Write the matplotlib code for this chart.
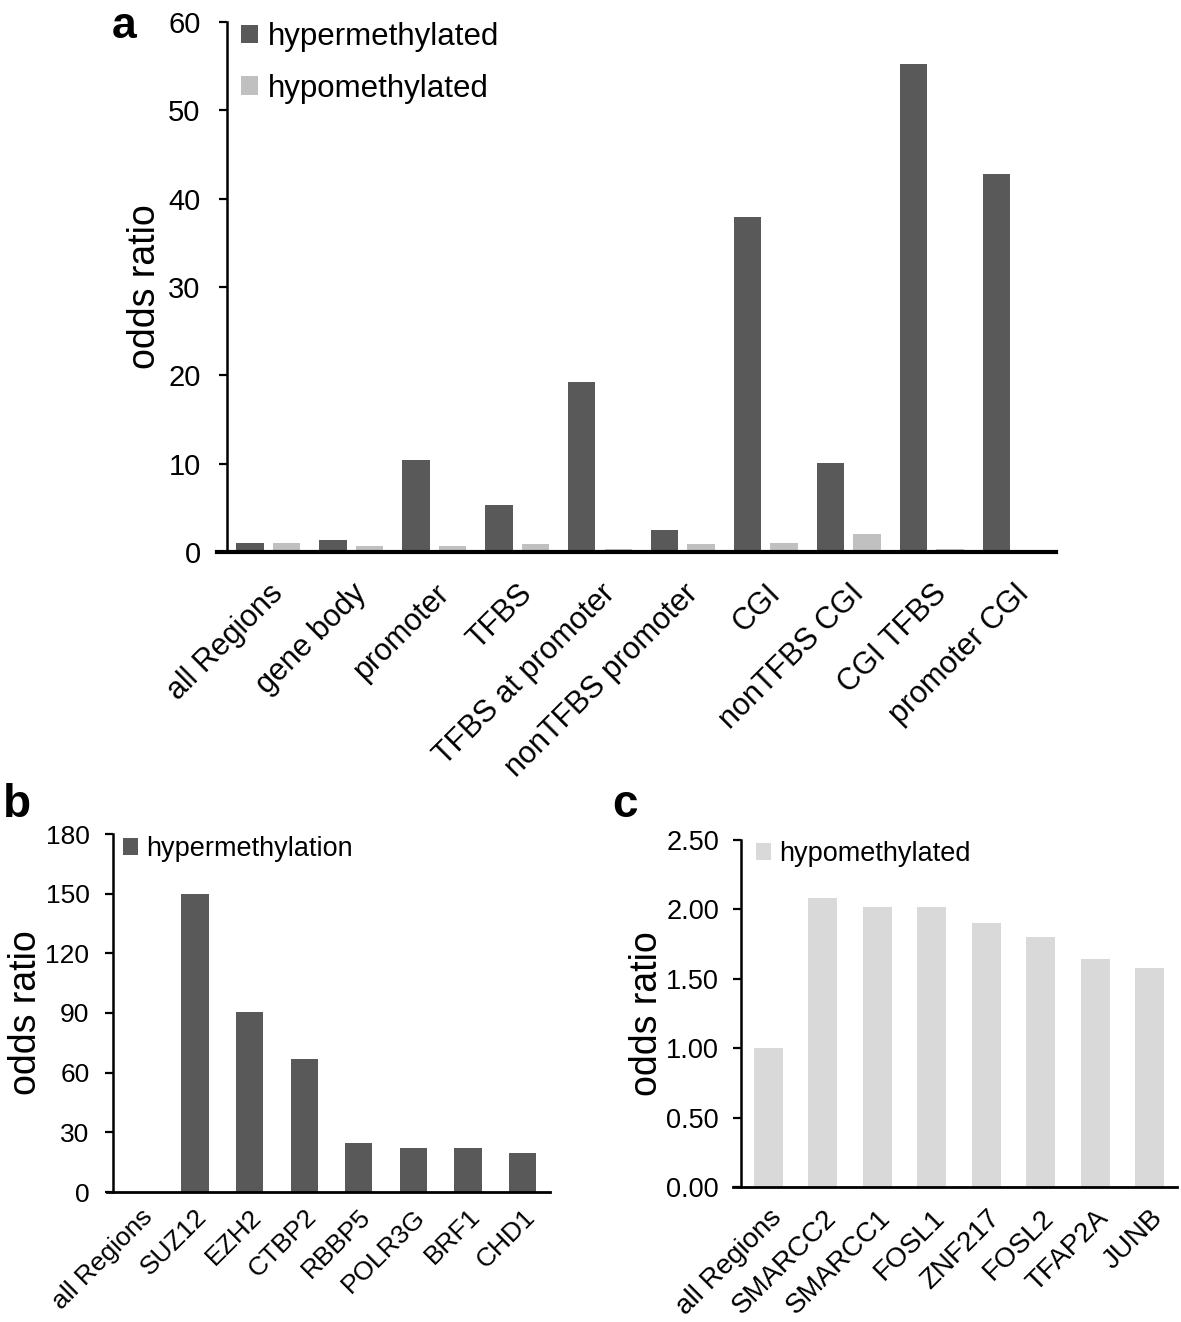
import numpy as np
import matplotlib as mpl
mpl.use('Agg')
import matplotlib.pyplot as plt

plt.rcParams['font.family'] = ['Liberation Sans', 'DejaVu Sans']

# panel a
regions = ['all Regions', 'gene body', 'promoter', 'TFBS', 'TFBS at promoter',
           'nonTFBS promoter', 'CGI', 'nonTFBS CGI', 'CGI TFBS', 'promoter CGI']
hyper_a = [1.0, 1.4, 10.4, 5.3, 19.3, 2.5, 37.9, 10.1, 55.2, 42.8]
hypo_a = [1.0, 0.7, 0.7, 0.9, 0.3, 0.9, 1.0, 2.0, 0.3, 0.1]

# panel b
factors_b = ['all Regions', 'SUZ12', 'EZH2', 'CTBP2', 'RBBP5', 'POLR3G', 'BRF1', 'CHD1']
hyper_b = [0, 150, 90.3, 67, 24.5, 22, 22, 19.7]

# panel c
factors_c = ['all Regions', 'SMARCC2', 'SMARCC1', 'FOSL1', 'ZNF217', 'FOSL2', 'TFAP2A', 'JUNB']
hypo_c = [1.00, 2.08, 2.02, 2.02, 1.90, 1.80, 1.64, 1.58]

dark = '#595959'
light = '#c0c0c0'
lighter = '#d9d9d9'

W, H = 1181, 1322
fig = plt.figure(figsize=(W / 100, H / 100), dpi=100)


def px_axes(l, t, r, b):
    return fig.add_axes([l / W, 1 - b / H, (r - l) / W, (b - t) / H])


def style(ax, lw_bottom=2, ypad=11):
    for s in ['top', 'right']:
        ax.spines[s].set_visible(False)
    ax.spines['left'].set_linewidth(1.8)
    ax.spines['left'].set_position(('data', -0.5))
    ax.spines['bottom'].set_linewidth(lw_bottom)
    ax.tick_params(axis='y', length=6, width=1.6, direction='out', pad=ypad)


def leg(ax, x, y, fs, ls=0.5):
    ax.legend(loc='upper left', bbox_to_anchor=(x / W, 1 - y / H), bbox_transform=fig.transFigure,
              frameon=False, fontsize=fs, borderpad=0, borderaxespad=0,
              handlelength=0.55, handleheight=0.55, handletextpad=0.3, labelspacing=ls)


###################################
ax = px_axes(217, 22, 1056, 552)
x = np.arange(len(regions))
ax.bar(x - 0.22, hyper_a, 0.33, color=dark, label='hypermethylated')
ax.bar(x + 0.22, hypo_a, 0.33, color=light, label='hypomethylated')
ax.set_xlim(-0.62, len(regions) - 0.5)
ax.set_ylim(0, 60)
ax.set_yticks(range(0, 61, 10))
ax.set_xticks(x)
ax.set_xticklabels(regions, rotation=45, ha='right', va='top', rotation_mode='anchor', fontsize=22)
ax.tick_params(axis='x', length=0, pad=19)
style(ax, 3, ypad=13)
ax.tick_params(axis='y', labelsize=21)
ax.set_ylabel('odds ratio', fontsize=27, labelpad=4)
leg(ax, 241, 22, 22.5, 0.7)
fig.text(112 / W, 1 - 38 / H, 'a', fontsize=32, fontweight='bold', va='baseline')

###################################
ax = px_axes(107, 834, 550, 1192)
x = np.arange(len(factors_b))
ax.bar(x, hyper_b, 0.5, color=dark, label='hypermethylation')
ax.set_xlim(-0.61, len(factors_b) - 0.5)
ax.set_ylim(0, 180)
ax.set_yticks(range(0, 181, 30))
ax.set_xticks(x)
ax.set_xticklabels(factors_b, rotation=45, ha='right', va='top', rotation_mode='anchor', fontsize=19)
ax.tick_params(axis='x', length=0, pad=9)
style(ax, ypad=11)
ax.tick_params(axis='y', labelsize=19)
ax.set_ylabel('odds ratio', fontsize=27, labelpad=1)
leg(ax, 123, 836, 19.5)
fig.text(3 / W, 1 - 817 / H, 'b', fontsize=33, fontweight='bold', va='baseline')

###################################
ax = px_axes(733, 840, 1177, 1187)
x = np.arange(len(factors_c))
ax.bar(x, hypo_c, 0.53, color=lighter, label='hypomethylated')
ax.set_xlim(-0.65, len(factors_c) - 0.5)
ax.set_ylim(0, 2.5)
yt = np.arange(0, 2.51, 0.5)
ax.set_yticks(yt)
ax.set_yticklabels(['%.2f' % v for v in yt])
ax.set_xticks(x)
ax.set_xticklabels(factors_c, rotation=45, ha='right', va='top', rotation_mode='anchor', fontsize=20)
ax.tick_params(axis='x', length=0, pad=13)
style(ax, ypad=10)
ax.tick_params(axis='y', labelsize=19.5)
ax.set_ylabel('odds ratio', fontsize=27, labelpad=1)
leg(ax, 756, 841, 19.5)
fig.text(612 / W, 1 - 817 / H, 'c', fontsize=33, fontweight='bold', va='baseline')

fig.savefig('out.png')
